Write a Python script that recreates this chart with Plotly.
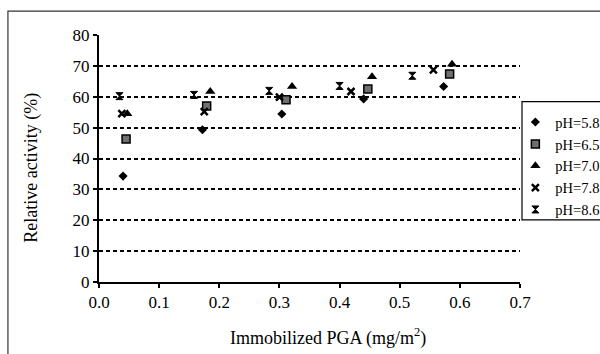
import plotly.graph_objects as go

series_names = ["pH=5.8", "pH=6.5", "pH=7.0", "pH=7.8", "pH=8.6"]
x_58 = [0.040, 0.172, 0.304, 0.440, 0.573]
y_58 = [34.3, 49.3, 54.4, 59.3, 63.3]
x_65 = [0.045, 0.179, 0.311, 0.447, 0.583]
y_65 = [46.3, 57.0, 59.0, 62.5, 67.4]
x_70 = [0.047, 0.185, 0.321, 0.454, 0.587]
y_70 = [54.5, 61.7, 63.3, 66.5, 70.5]
x_78 = [0.038, 0.175, 0.300, 0.419, 0.556]
y_78 = [54.5, 55.2, 59.9, 61.7, 68.7]
x_86 = [0.034, 0.158, 0.283, 0.400, 0.521]
y_86 = [60.2, 60.6, 61.9, 63.5, 66.8]
x_ticks = [0.0, 0.1, 0.2, 0.3, 0.4, 0.5, 0.6, 0.7]
y_ticks = [0, 10, 20, 30, 40, 50, 60, 70, 80]

FONT = "Liberation Serif"

fig = go.Figure()
styles = [
    dict(symbol="diamond", size=7, color="black"),
    dict(symbol="square", size=8, color="#707070", line=dict(color="black", width=1.5)),
    dict(symbol="triangle-up", size=9, color="black"),
    dict(symbol="x-thin", size=7, color="black", line=dict(color="black", width=2.5)),
    dict(symbol="hourglass", size=7, color="black", line=dict(color="black", width=1)),
]
data = [(x_58, y_58), (x_65, y_65), (x_70, y_70), (x_78, y_78), (x_86, y_86)]
for name, (xs, ys), st in zip(series_names, data, styles):
    fig.add_trace(go.Scatter(x=xs, y=ys, mode="markers", name=name, marker=st,
                             cliponaxis=False))

fig.update_layout(
    width=600, height=354,
    paper_bgcolor="white", plot_bgcolor="white",
    margin=dict(l=99, r=80, t=35, b=72, autoexpand=False),
    font=dict(family=FONT, size=17, color="black"),
    showlegend=True,
    legend=dict(x=0.989, y=0.712, xanchor="left", yanchor="top",
                bgcolor="rgba(0,0,0,0)", borderwidth=0,
                font=dict(family=FONT, size=14.5, color="black"),
                itemwidth=30, tracegroupgap=0),
    xaxis=dict(range=[0, 0.7], tickvals=x_ticks, ticktext=[f"{v:.1f}" for v in x_ticks],
               showgrid=False, zeroline=False, showline=True, linecolor="black", linewidth=2,
               ticks="outside", ticklen=4, tickwidth=1.5, tickcolor="black",
               tickfont=dict(family=FONT, size=17)),
    yaxis=dict(range=[0, 80], tickvals=y_ticks, showgrid=True, gridcolor="black",
               gridwidth=1.5, griddash="4px,3px", zeroline=False, showline=True,
               linecolor="black", linewidth=2, ticks="outside", ticklen=4, tickwidth=1.5,
               tickcolor="black", tickfont=dict(family=FONT, size=17)),
    annotations=[
        dict(text="Immobilized PGA (mg/m<sup>2</sup>)", xref="paper", yref="paper",
             x=(328 - 99) / 420.7, y=(282.3 - 337) / 247.3, xanchor="center", yanchor="middle",
             showarrow=False, font=dict(family=FONT, size=18)),
        dict(text="Relative activity (%)", xref="paper", yref="paper",
             x=(32 - 99) / 420.7, y=(282.3 - 168) / 247.3, xanchor="center", yanchor="middle",
             textangle=-90, showarrow=False, font=dict(family=FONT, size=18)),
    ],
    shapes=[
        dict(type="rect", xref="paper", yref="paper",
             x0=(8 - 99) / 420.7, x1=(606 - 99) / 420.7,
             y0=(282.3 - 360) / 247.3, y1=(282.3 - 11) / 247.3,
             line=dict(color="#333333", width=1.2), fillcolor="rgba(0,0,0,0)"),
        dict(type="rect", xref="paper", yref="paper",
             x0=(521.7 - 99) / 420.7, x1=(610 - 99) / 420.7,
             y0=(282.3 - 220) / 247.3, y1=(282.3 - 101.7) / 247.3,
             line=dict(color="black", width=1.2), fillcolor="rgba(0,0,0,0)"),
    ],
)

fig.write_html("out.html", config={"displayModeBar": False},
               post_script="document.body.style.margin='0';document.body.style.overflow='hidden';")
